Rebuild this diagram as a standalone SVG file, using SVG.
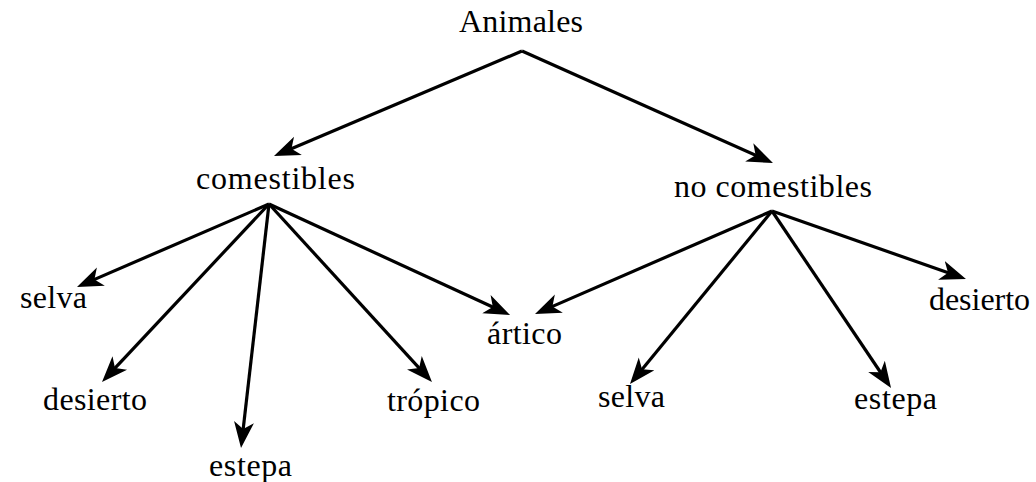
<svg xmlns="http://www.w3.org/2000/svg" width="1036" height="482" viewBox="0 0 1036 482">
<style>
  text { font-family: "Liberation Serif", "Times New Roman", serif; font-size: 32px; fill: #000; }
  .c line { stroke: #000; stroke-width: 3.2; fill: none; marker-end: url(#ah); }
</style>
<defs>
  <marker id="ah" markerUnits="userSpaceOnUse" markerWidth="28" markerHeight="22" refX="20" refY="11" orient="auto">
    <path d="M26,11 L0,1 L7,11 L0,21 Z" fill="#000"/>
  </marker>
</defs>
<rect width="1036" height="482" fill="#fff"/>
<g id="connectors" class="c">
  <line x1="522" y1="51" x2="279.5" y2="153.7"/>
  <line x1="522" y1="51" x2="767.5" y2="160.6"/>
  <line x1="269" y1="204" x2="82.5" y2="284.6"/>
  <line x1="269" y1="204" x2="106.1" y2="377.6"/>
  <line x1="269" y1="204" x2="241.7" y2="442"/>
  <line x1="269" y1="204" x2="427.9" y2="377.6"/>
  <line x1="269" y1="204" x2="504.6" y2="312.5"/>
  <line x1="772" y1="211" x2="540.5" y2="311.6"/>
  <line x1="772" y1="211" x2="633.8" y2="379.4"/>
  <line x1="772" y1="211" x2="887.7" y2="383"/>
  <line x1="772" y1="211" x2="960.3" y2="277"/>
</g>
<g id="animales"><text x="459" y="32" textLength="124">Animales</text></g>
<g id="comestibles"><text x="196" y="189" textLength="159">comestibles</text></g>
<g id="no-comestibles"><text x="674" y="197" textLength="198">no comestibles</text></g>
<g id="c-selva"><text x="20" y="308" textLength="67">selva</text></g>
<g id="c-desierto"><text x="43" y="410" textLength="104">desierto</text></g>
<g id="c-estepa"><text x="209" y="476" textLength="83">estepa</text></g>
<g id="c-tropico"><text x="387" y="411" textLength="93">trópico</text></g>
<g id="artico"><text x="487" y="344" textLength="75">ártico</text></g>
<g id="n-selva"><text x="598" y="407" textLength="67">selva</text></g>
<g id="n-estepa"><text x="854" y="409" textLength="83">estepa</text></g>
<g id="n-desierto"><text x="929" y="310" textLength="101">desierto</text></g>
</svg>
